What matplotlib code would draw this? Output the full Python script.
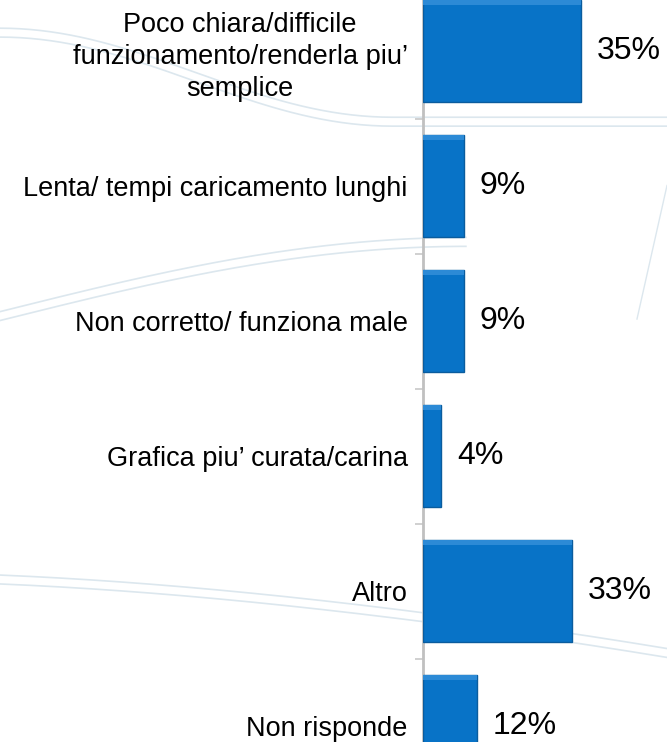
import matplotlib
matplotlib.use('Agg')
import matplotlib.pyplot as plt
import numpy as np

plt.rcParams['font.family'] = ['Liberation Sans', 'DejaVu Sans']

# data
categories = [
    'Poco chiara/difficile\nfunzionamento/renderla piu\u2019\nsemplice',
    'Lenta/ tempi caricamento lunghi',
    'Non corretto/ funziona male',
    'Grafica piu\u2019 curata/carina',
    'Altro',
    'Non risponde',
]
values = [35, 9, 9, 4, 33, 12]

BAR_COLOR = '#0873C7'
EDGE_COLOR = '#0A5C9E'
SWOOSH = '#dce7ee'

fig = plt.figure(figsize=(6.67, 7.42), dpi=100)

# faint decorative swooshes of the slide template (background only)
bg = fig.add_axes([0, 0, 1, 1], zorder=0)
bg.set_xlim(0, 1)
bg.set_ylim(0, 1)
bg.axis('off')
t = np.linspace(0, 1, 200)
for off in (0.0, 0.012):
    bg.plot(t, 0.95 - 0.12 * (1 - np.cos(np.pi * np.clip(t * 1.7, 0, 1))) / 2 + off,
            color=SWOOSH, lw=1.2)
    bg.plot(t[:140], 0.58 + 0.10 * np.sin(np.pi * t[:140] / 1.4) - off,
            color=SWOOSH, lw=1.2)
    bg.plot(t, 0.225 - 0.02 * np.sin(np.pi * t * 0.6) - 0.08 * t ** 2 - off,
            color=SWOOSH, lw=1.2)
bg.plot(0.955 + 0.045 * t, 0.57 + 0.18 * t, color=SWOOSH, lw=1.0)

# the plot area runs past the figure edges (bars 1 and 6 are cut off)
band = 135 / 742
top = 1 + 16.5 / 742
ax = fig.add_axes([423 / 667, top - 6 * band, 244 / 667, 6 * band], zorder=1)
ax.patch.set_alpha(0)

y = np.arange(len(categories))
bars = ax.barh(y, values, height=0.76, color=BAR_COLOR, edgecolor=EDGE_COLOR,
               linewidth=1.0, zorder=3)
# light bevel strip on top of each bar
ax.barh(y - 0.76 / 2 + 0.02, values, height=0.035, color='#2c8ad6',
        linewidth=0, zorder=4)

for b, v in zip(bars, values):
    ax.text(b.get_width() + 3.5, b.get_y() + b.get_height() / 2, f'{v}%',
            va='center', ha='left', fontsize=23, color='black')

ax.set_xlim(0, 54)
ax.set_ylim(len(categories) - 0.5, -0.5)
ax.set_yticks(y)
ax.set_yticklabels(categories, fontsize=19.5, multialignment='center',
                   linespacing=1.3)
ax.set_yticks(np.arange(len(categories) + 1) - 0.5, minor=True)
ax.tick_params(axis='y', which='major', length=0, pad=11)
ax.tick_params(axis='y', which='minor', length=6, width=1.2, color='#c8c8c8')
ax.xaxis.set_visible(False)
for s in ('top', 'right', 'bottom'):
    ax.spines[s].set_visible(False)
ax.spines['left'].set_color('#c0c0c0')
ax.spines['left'].set_linewidth(2)

fig.savefig('out.png', dpi=100)
